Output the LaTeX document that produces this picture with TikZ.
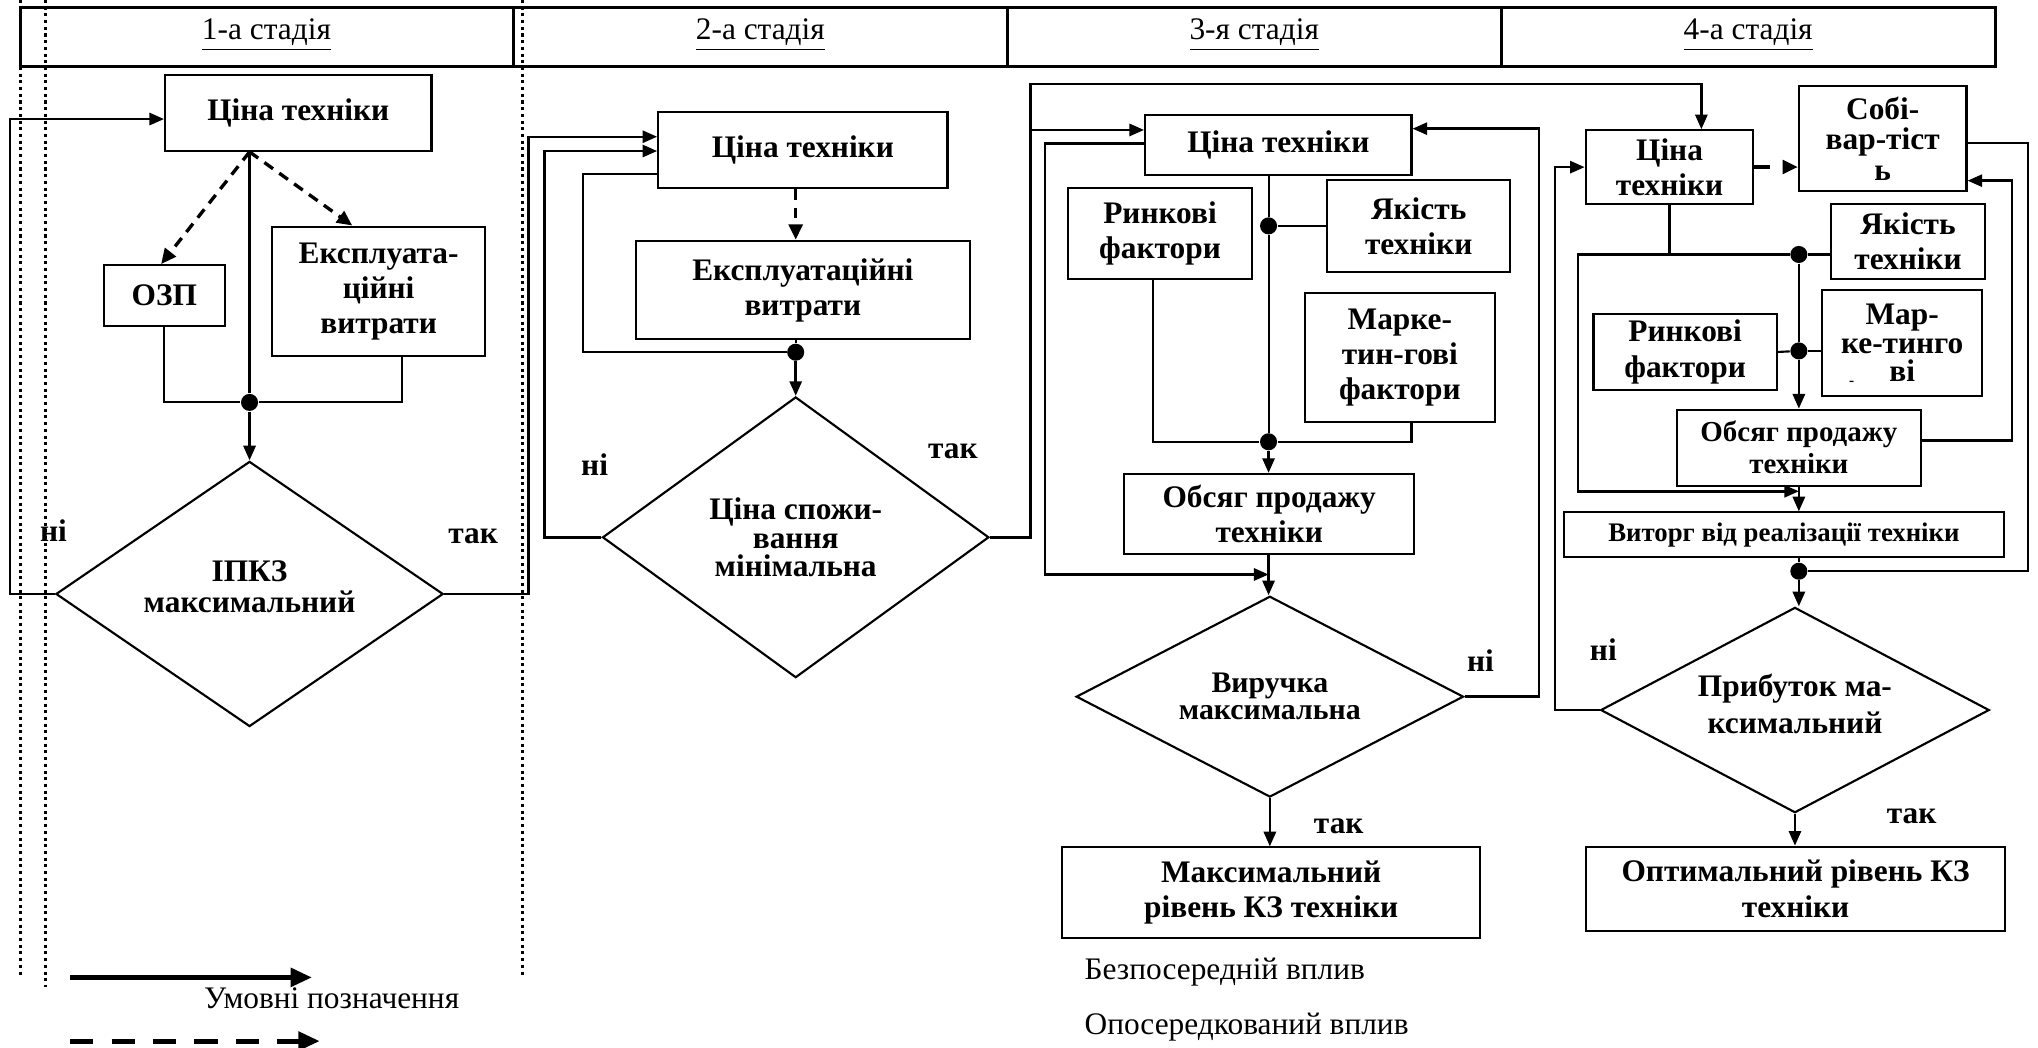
\documentclass[tikz,border=0pt]{standalone}
\usepackage{fontspec}
\setmainfont{Liberation Serif}
\usepackage{tikz}
\usetikzlibrary{shapes.geometric,arrows.meta,positioning,calc}

\tikzset{
    blok/.style 2 args={draw, line width=0.7pt, align=center, inner sep=1pt,
        minimum width=#1*0.015cm, minimum height=#2*0.015cm,
        font=\fontsize{10.3}{11.5}\selectfont\bfseries},
    romb/.style 2 args={draw, line width=0.7pt, shape=diamond, aspect=1.6, inner sep=0pt,
        align=center, minimum width=#1*0.015cm, minimum height=#2*0.015cm,
        font=\fontsize{10.3}{9.5}\selectfont\bfseries},
    komirka/.style={draw, line width=1pt, minimum width=380*0.015cm, minimum height=45.7*0.015cm},
    zv/.style={line width=0.7pt},
    strilka/.style={line width=0.8pt, -{Triangle[length=4.8pt,width=4pt]}},
    punktyr/.style={line width=1.1pt, dash pattern=on 3.5pt off 2.5pt, -{Triangle[length=5pt,width=4.5pt]}},
    krapky/.style={line width=1pt, dash pattern=on 1pt off 1.2pt},
    mitka/.style={font=\fontsize{10.3}{12}\selectfont\bfseries, inner sep=0pt},
    tochka/.style={circle, fill, inner sep=0pt, minimum size=5.6pt}
}

\begin{document}
\begin{tikzpicture}[x=0.015cm, y=-0.015cm, font=\fontsize{10.3}{12}\selectfont]
    \useasboundingbox (0,0) rectangle (1568,806);

    % Stages header
    \node[komirka, minimum width=379*0.015cm] (h1) at (205.5,28.5) {};
    \node[komirka] (h2) at (585,28.5) {};
    \node[komirka] (h3) at (965,28.5) {};
    \node[komirka] (h4) at (1345,28.5) {};
    \node (st1) at (205,27) {\underline{1-а стадія}};
    \node (st2) at (585,27) {\underline{2-а стадія}};
    \node (st3) at (965,27) {\underline{3-я стадія}};
    \node (st4) at (1345,27) {\underline{4-а стадія}};

    % Dotted borders of stage 1
    \draw[krapky] (16,0) -- (16,752);
    \draw[krapky] (35.2,0) -- (35.2,759);
    \draw[krapky] (401.7,0) -- (401.7,750);

    % Stage 1
    \node[blok={205}{58.3}] (tsina1) at (229.5,86.9) {Ціна техніки};
    \node[blok={93.3}{46.6}] (ozp) at (126.4,227.3) {ОЗП};
    \node[blok={163.8}{99.3}] (ekspl1) at (291.3,224) {Експлуата-\\ційні\\витрати};
    \node[romb={298}{204}] (romb1) at (192,457) {\raisebox{5pt}{\shortstack{ІПКЗ\\максимальний}}};
    \node[tochka] (d1) at (192,309.6) {};

    \draw[zv] (tsina1.south -| d1) -- (d1);
    \draw[strilka] (d1) -- (romb1.north);
    \draw[zv] (ozp.south) |- (d1);
    \draw[zv] (ekspl1.south -| 309,0) |- (d1);
    \draw[punktyr] (tsina1.south -| d1) -- (ozp.north -| 124,0);
    \draw[punktyr] (tsina1.south -| d1) -- (ekspl1.north -| 271,0);
    \draw[strilka] (romb1.west) -| (7.7,91.6) -- (tsina1.west |- 0,91.6);
    \node[mitka] (ni1) at (41.2,408.6) {ні};
    \node[mitka] (tak1) at (364,413) {так};

    % Stage 2
    \node[blok={222.6}{58.5}] (tsina2) at (617.7,115.7) {Ціна техніки};
    \node[blok={257.2}{75.9}] (ekspl2) at (617.7,223.2) {Експлуатаційні\\витрати};
    \node[romb={297.3}{216}] (romb2) at (612.2,413.4) {Ціна спожи-\\вання\\мінімальна};
    \node[tochka] (d2) at (612.2,271) {};

    \draw[strilka] (romb1.east) -| (406.7,105.2) -- (tsina2.west |- 0,105.2);
    \draw[strilka] (romb2.west) -| (419,116.2) -- (tsina2.west |- 0,116.2);
    \draw[punktyr] (tsina2.south -| d2) -- (ekspl2.north -| d2);
    \draw[zv] (ekspl2.south -| d2) -- (d2);
    \draw[strilka] (d2) -- (romb2.north);
    \draw[zv] (tsina2.west |- 0,134.1) -| (448.5,271) -- (d2);
    \node[mitka] (ni2) at (457.5,357.8) {ні};
    \node[mitka] (tak2) at (733.2,347.5) {так};

    % Stage 3
    \node[blok={205}{46.5}] (tsina3) at (983.5,111.5) {Ціна техніки};
    \node[blok={141}{70.2}] (rynk3) at (892.5,179.8) {Ринкові\\фактори};
    \node[blok={141}{70.3}] (yakist3) at (1091.5,173.8) {Якість\\техніки};
    \node[blok={146}{99}] (market3) at (1077,275) {Марке-\\тин-гові\\фактори};
    \node[blok={223}{61.3}] (obsyag3) at (976.5,395.3) {Обсяг продажу\\техніки};
    \node[romb={298}{154.5}, font=\fontsize{9.8}{9}\selectfont\bfseries] (romb3) at (977,536) {Виручка\\максимальна};
    \node[blok={322}{70}] (maks) at (978,687) {Максимальний\\рівень КЗ техніки};
    \node[tochka] (d3) at (976,173.8) {};
    \node[tochka] (d4) at (976,339.9) {};
    \coordinate (r2) at (792.8,100);

    \draw[strilka] (r2) -- (tsina3.west |- r2);
    \draw[zv] (tsina3.south -| d3) -- (d3) -- (d4);
    \draw[zv] (yakist3.west) -- (d3);
    \draw[zv] (rynk3.south -| 887,0) |- (d4);
    \draw[zv] (market3.south -| 1086,0) |- (d4);
    \draw[strilka] (d4) -- (obsyag3.north -| d4);
    \draw[strilka] (obsyag3.south -| d4) -- (romb3.north -| d4);
    \draw[strilka] (tsina3.west |- 0,110.3) -| (804,442) -- (d4 |- 0,442);
    \draw[strilka] (romb3.east) -| (1184,99) -- (tsina3.east |- 0,99);
    \draw[strilka] (romb3.south) -- (maks.north -| romb3.south);
    \node[mitka] (ni3) at (1139,508) {ні};
    \node[mitka] (tak3) at (1030,636) {так};

    % Stage 4
    \node[blok={129}{56.5}] (tsina4) at (1284.5,128.5) {Ціна\\техніки};
    \node[blok={129}{80.4}, font=\fontsize{10.3}{10}\selectfont\bfseries] (sobiv) at (1448.5,106.5) {Собі-\\вар-тіст\\ь};
    \node[blok={118}{57.1}] (yakist4) at (1468,185.8) {Якість\\техніки};
    \node[blok={141}{58.4}] (rynk4) at (1296.5,270.8) {Ринкові\\фактори};
    \node[blok={123}{81.7}, font=\fontsize{10.3}{9.5}\selectfont\bfseries] (market4) at (1463.5,263.7) {Мар-\\ке-тинго\\ві};
    \node[font=\tiny\bfseries, inner sep=0pt] (market4b) at (1424.7,295.3) {-};
    \node[blok={188}{58.4}, font=\fontsize{9.5}{10.5}\selectfont\bfseries] (obsyag4) at (1384,344.4) {Обсяг продажу\\техніки};
    \node[blok={339}{34.5}, font=\fontsize{8.8}{10}\selectfont\bfseries] (vytorh) at (1372.5,411.5) {Виторг від реалізації техніки};
    \node[romb={299}{158}] (romb4) at (1381,546.3) {\raisebox{4pt}{\shortstack{Прибуток ма-\\ксимальний}}};
    \node[blok={322.4}{64.7}] (optym) at (1381.5,683.8) {Оптимальний рівень КЗ\\техніки};
    \node[tochka] (d5) at (1384,195.8) {};
    \node[tochka] (d6) at (1384,270) {};
    \node[tochka] (d7) at (1384,439.5) {};

    \draw[strilka] (romb2.east) -| (792.8,64.5) -| (tsina4.north -| 1309,0);
    \draw[line width=1.1pt, dash pattern=on 5pt off 4.3pt, -{Triangle[length=5pt,width=4.5pt]}]
        (tsina4.east) -- (sobiv.west |- tsina4.east);
    \draw[zv] (tsina4.south) -- (tsina4.south |- d5);
    \draw[zv] (yakist4.west |- d5) -- (d5);
    \draw[strilka] (d5) -- (1214,195.8) |- (d6 |- 0,378);
    \draw[zv] (d5) -- (d6);
    \draw[zv] (rynk4.east) -- (d6);
    \draw[zv] (market4.west |- d6) -- (d6);
    \draw[strilka] (d6) -- (obsyag4.north -| d6);
    \draw[strilka] (obsyag4.south -| d6) -- (vytorh.north -| d6);
    \draw[zv] (vytorh.south -| d7) -- (d7);
    \draw[strilka] (d7) -- (romb4.north -| d7);
    \draw[strilka] (obsyag4.east |- 0,339) -| (1548,139) -- (sobiv.east |- 0,139);
    \draw[zv] (sobiv.east |- 0,110) -| (1560,439.5) -- (d7);
    \draw[strilka] (romb4.west) -| (1196.5,128.6) -- (tsina4.west |- 0,128.6);
    \draw[strilka] (romb4.south) -- (optym.north -| romb4.south);
    \node[mitka] (ni4) at (1233.6,500) {ні};
    \node[mitka] (tak4) at (1470.8,628.4) {так};

    % Legend
    \coordinate (lg1) at (54,752);
    \coordinate (lg2) at (54,801);
    \draw[line width=1.6pt, -{Triangle[length=7pt,width=6pt]}] (lg1) -- ++(186,0);
    \draw[line width=1.6pt, dash pattern=on 7.6pt off 6pt, -{Triangle[length=7pt,width=6pt]}] (lg2) -- ++(192,0);
    \node[anchor=west, inner sep=0pt] (umovni) at (156.5,768) {Умовні позначення};
    \node[anchor=west, inner sep=0pt] (bezpos) at (834,748) {Безпосередній вплив};
    \node[anchor=west, inner sep=0pt] (oposer) at (834,790) {Опосередкований вплив};
\end{tikzpicture}
\end{document}
